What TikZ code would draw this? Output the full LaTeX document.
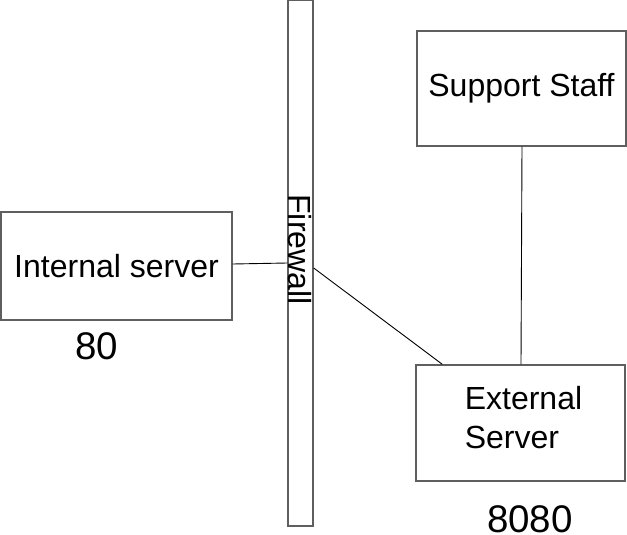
\documentclass[tikz,border=0pt]{standalone}
\usepackage{fontspec}
\setmainfont{Liberation Sans}
\usetikzlibrary{calc}
\definecolor{boxgray}{RGB}{95,95,95}
\tikzset{
  box/.style={draw=boxgray, line width=1.4pt, rectangle, inner sep=0pt},
  lbl/.style={inner sep=0pt, font=\fontsize{32}{39}\selectfont},
  bigtxt/.style={inner sep=0pt, font=\fontsize{38.5}{44}\selectfont},
  wire/.style={draw=black, line width=0.9pt}
}
\begin{document}
\begin{tikzpicture}[x=1pt,y=-1pt]
\useasboundingbox (0,0) rectangle (627,535);
% boxes
\node[box, minimum width=231pt, minimum height=108pt, font=\fontsize{32}{39}\selectfont] (int) at (116.5,266) {Internal server};
\node[box, minimum width=25pt, minimum height=526pt] (fw) at (300.5,263) {};
\node[lbl, rotate=-90] (fwtxt) at (299.5,249.5) {Firewall};
\node[box, minimum width=209pt, minimum height=115pt, font=\fontsize{32}{39}\selectfont] (sup) at (521.5,88.5) {Support Staff};
\node[box, minimum width=209pt, minimum height=116pt] (ext) at (520.5,423) {};
\node[lbl, align=left] (exttxt) at (523.5,418) {External\\Server};
% port labels
\node[bigtxt] (p80) at (97,346.5) {80};
\node[bigtxt] (p8080) at (530,519.5) {8080};
% connectors
\draw[wire] ($(int.east)+(0,-2)$) -- ($(fw.west)+(0,0)$);
\draw[wire] ($(fw.east)+(0,5)$) -- ($(ext.north west)+(27,0)$);
\draw[wire] ($(sup.south)+(0.5,0)$) -- ($(ext.north)+(0.5,0)$);
\end{tikzpicture}
\end{document}
